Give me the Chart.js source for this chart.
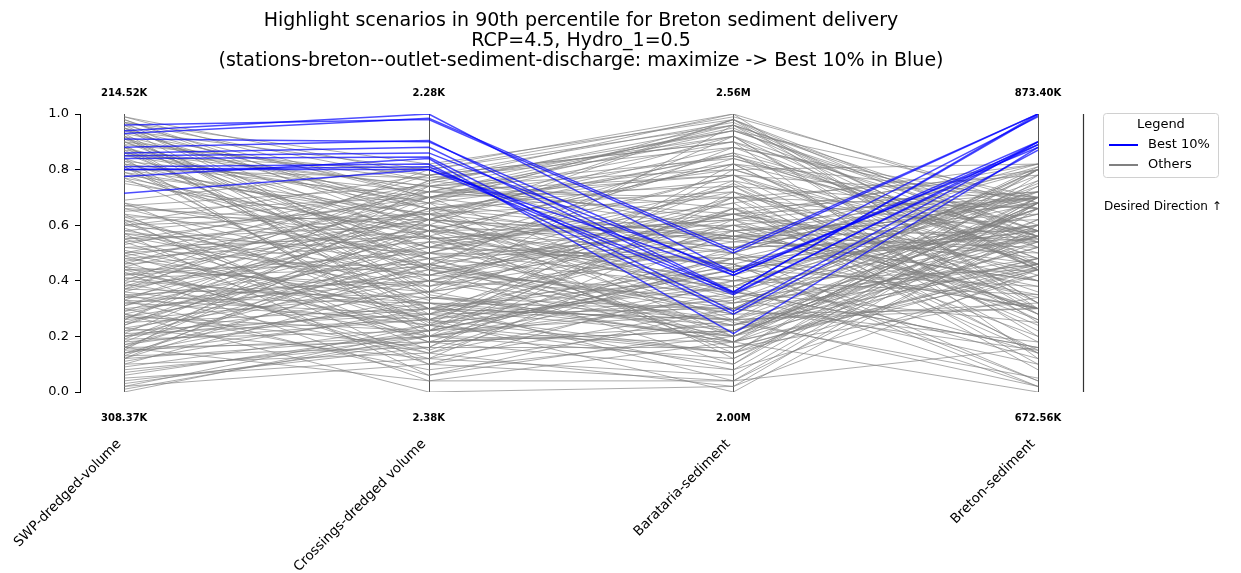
<!DOCTYPE html>
<html>
<head>
<meta charset="utf-8">
<script src="https://cdn.jsdelivr.net/npm/chart.js@4.4.1/dist/chart.umd.min.js"></script>
<style>
  body { margin: 0; background: #fff; }
  #wrap { width: 1241px; height: 573px; position: relative; }
</style>
</head>
<body>
<div id="wrap"><canvas id="chart1"></canvas></div>
<script>
// axes of the parallel plot
var axisNames = ['SWP-dredged-volume', 'Crossings-dredged volume', 'Barataria-sediment', 'Breton-sediment'];
var topLabels = ['214.52K', '2.28K', '2.56M', '873.40K'];
var bottomLabels = ['308.37K', '2.38K', '2.00M', '672.56K'];
var yTicks = [0, 0.2, 0.4, 0.6, 0.8, 1.0];

var titleLines = [
  'Highlight scenarios in 90th percentile for Breton sediment delivery',
  'RCP=4.5, Hydro_1=0.5',
  '(stations-breton--outlet-sediment-discharge: maximize -> Best 10% in Blue)'
];

// normalized values per scenario: [SWP, Crossings, Barataria, Breton]
var best = [
  [0.96, 0.98, 0.50, 1.00],
  [0.94, 1.00, 0.43, 0.99],
  [0.93, 0.985, 0.51, 1.00],
  [0.91, 0.90, 0.42, 0.90],
  [0.88, 0.905, 0.36, 1.00],
  [0.86, 0.88, 0.355, 0.89],
  [0.85, 0.86, 0.43, 0.88],
  [0.84, 0.845, 0.29, 0.90],
  [0.81, 0.82, 0.28, 0.87],
  [0.80, 0.81, 0.36, 0.995],
  [0.80, 0.80, 0.42, 0.89],
  [0.775, 0.84, 0.21, 0.88],
  [0.715, 0.80, 0.35, 0.90]
];

var others = [
  [0.99, 0.78, 0.97, 0.45], [0.98, 0.62, 0.55, 0.70], [0.97, 0.45, 0.30, 0.15], [0.96, 0.70, 0.85, 0.55],
  [0.95, 0.55, 0.62, 0.30], [0.94, 0.80, 0.99, 0.68], [0.93, 0.35, 0.18, 0.80], [0.92, 0.66, 0.72, 0.42],
  [0.91, 0.50, 0.40, 0.60], [0.90, 0.76, 0.92, 0.25], [0.89, 0.28, 0.48, 0.72], [0.88, 0.60, 0.25, 0.05],
  [0.87, 0.74, 0.80, 0.50], [0.86, 0.42, 0.68, 0.82], [0.85, 0.68, 0.55, 0.35], [0.84, 0.20, 0.12, 0.62],
  [0.83, 0.72, 0.95, 0.44], [0.82, 0.58, 0.35, 0.78], [0.81, 0.38, 0.60, 0.20], [0.80, 0.77, 0.88, 0.66],
  [0.79, 0.48, 0.22, 0.52], [0.78, 0.64, 0.70, 0.10], [0.77, 0.30, 0.45, 0.58], [0.76, 0.52, 0.78, 0.40],
  [0.69, 0.81, 1.00, 0.30], [0.68, 0.25, 0.33, 0.75], [0.67, 0.55, 0.64, 0.48], [0.66, 0.40, 0.20, 0.68],
  [0.65, 0.70, 0.90, 0.12], [0.64, 0.15, 0.50, 0.80], [0.63, 0.62, 0.38, 0.56], [0.62, 0.33, 0.75, 0.28],
  [0.61, 0.78, 0.58, 0.64], [0.60, 0.46, 0.16, 0.45], [0.59, 0.22, 0.42, 0.70], [0.58, 0.68, 0.82, 0.32],
  [0.57, 0.50, 0.28, 0.81], [0.56, 0.36, 0.66, 0.15], [0.55, 0.60, 0.52, 0.55], [0.54, 0.18, 0.08, 0.42],
  [0.53, 0.75, 0.96, 0.60], [0.52, 0.42, 0.36, 0.25], [0.51, 0.28, 0.70, 0.78], [0.50, 0.58, 0.46, 0.02],
  [0.49, 0.65, 0.85, 0.48], [0.48, 0.32, 0.24, 0.66], [0.47, 0.10, 0.40, 0.35], [0.46, 0.54, 0.62, 0.72],
  [0.45, 0.70, 0.30, 0.18], [0.44, 0.38, 0.76, 0.54], [0.43, 0.24, 0.14, 0.80], [0.42, 0.62, 0.56, 0.40],
  [0.41, 0.45, 0.92, 0.28], [0.40, 0.80, 0.44, 0.68], [0.39, 0.20, 0.32, 0.46], [0.38, 0.52, 0.68, 0.08],
  [0.37, 0.34, 0.22, 0.62], [0.36, 0.66, 0.80, 0.82], [0.35, 0.14, 0.48, 0.30], [0.34, 0.48, 0.18, 0.56],
  [0.33, 0.72, 0.64, 0.44], [0.32, 0.26, 0.38, 0.74], [0.31, 0.56, 0.86, 0.20], [0.30, 0.40, 0.26, 0.66],
  [0.29, 0.64, 0.54, 0.50], [0.28, 0.16, 0.72, 0.36], [0.27, 0.44, 0.10, 0.78], [0.26, 0.76, 0.94, 0.58],
  [0.25, 0.30, 0.42, 0.12], [0.24, 0.58, 0.60, 0.70], [0.23, 0.12, 0.30, 0.44], [0.22, 0.50, 0.78, 0.26],
  [0.21, 0.68, 0.20, 0.60], [0.20, 0.36, 0.50, 0.81], [0.19, 0.22, 0.66, 0.40], [0.18, 0.60, 0.36, 0.16],
  [0.17, 0.46, 0.88, 0.68], [0.16, 0.18, 0.24, 0.52], [0.15, 0.74, 0.58, 0.34], [0.14, 0.28, 0.14, 0.76],
  [0.13, 0.54, 0.46, 0.04], [0.12, 0.20, 0.70, 0.58], [0.10, 0.40, 0.34, 0.46], [0.08, 0.18, 0.52, 0.70],
  [0.06, 0.22, 0.28, 0.30], [0.04, 0.16, 0.62, 0.54], [0.02, 0.24, 0.40, 0.64], [0.01, 0.20, 0.18, 0.42],
  [0.97, 0.82, 0.98, 0.52], [0.95, 0.66, 0.76, 0.22], [0.92, 0.40, 0.56, 0.68], [0.90, 0.56, 0.32, 0.48],
  [0.88, 0.30, 0.20, 0.74], [0.86, 0.74, 0.62, 0.14], [0.84, 0.52, 0.84, 0.56], [0.82, 0.22, 0.44, 0.38],
  [0.80, 0.64, 0.26, 0.80], [0.78, 0.44, 0.74, 0.66], [0.75, 0.58, 0.50, 0.30], [0.68, 0.48, 0.58, 0.62],
  [0.66, 0.60, 0.98, 0.44], [0.63, 0.30, 0.26, 0.54], [0.60, 0.72, 0.70, 0.24], [0.57, 0.38, 0.54, 0.68],
  [0.54, 0.64, 0.44, 0.72], [0.50, 0.26, 0.60, 0.46], [0.48, 0.56, 0.16, 0.34], [0.46, 0.78, 0.90, 0.58],
  [0.44, 0.14, 0.36, 0.64], [0.42, 0.50, 0.74, 0.18], [0.40, 0.32, 0.30, 0.80], [0.38, 0.70, 0.56, 0.40],
  [0.36, 0.24, 0.82, 0.56], [0.34, 0.60, 0.34, 0.10], [0.32, 0.42, 0.64, 0.70], [0.30, 0.08, 0.20, 0.48],
  [0.28, 0.52, 0.48, 0.60], [0.26, 0.36, 0.96, 0.32], [0.24, 0.66, 0.12, 0.68], [0.22, 0.28, 0.56, 0.52],
  [0.20, 0.48, 0.38, 0.76], [0.18, 0.26, 0.66, 0.26], [0.16, 0.62, 0.52, 0.56], [0.14, 0.34, 0.30, 0.66],
  [0.12, 0.46, 0.60, 0.38], [0.16, 0.04, 0.04, 0.58], [0.28, 0.00, 0.02, 0.44], [0.33, 0.06, 0.22, 0.70],
  [0.45, 0.12, 0.06, 0.68], [0.55, 0.26, 0.00, 0.60],
  [0.99, 0.70, 0.94, 0.56], [0.98, 0.58, 0.82, 0.30], [0.97, 0.76, 0.66, 0.72], [0.96, 0.44, 0.24, 0.46],
  [0.95, 0.36, 0.52, 0.82], [0.94, 0.62, 0.36, 0.16], [0.93, 0.72, 0.78, 0.70], [0.92, 0.26, 0.14, 0.54],
  [0.91, 0.68, 0.98, 0.32], [0.90, 0.48, 0.64, 0.80], [0.89, 0.78, 0.90, 0.44], [0.88, 0.52, 0.46, 0.70],
  [0.87, 0.34, 0.26, 0.02], [0.86, 0.66, 0.56, 0.58], [0.85, 0.80, 0.96, 0.46], [0.83, 0.44, 0.32, 0.66],
  [0.82, 0.70, 0.74, 0.28], [0.81, 0.24, 0.10, 0.70], [0.79, 0.62, 0.86, 0.56], [0.77, 0.56, 0.40, 0.44],
  [0.67, 0.74, 0.94, 0.70], [0.64, 0.50, 0.48, 0.30], [0.61, 0.18, 0.22, 0.58], [0.58, 0.42, 0.62, 0.82],
  [0.55, 0.70, 0.78, 0.46], [0.52, 0.56, 0.20, 0.68], [0.49, 0.20, 0.46, 0.14], [0.47, 0.62, 0.98, 0.56],
  [0.44, 0.46, 0.28, 0.72], [0.41, 0.30, 0.58, 0.30], [0.39, 0.74, 0.84, 0.52], [0.37, 0.58, 0.14, 0.44],
  [0.35, 0.40, 0.70, 0.66], [0.33, 0.28, 0.30, 0.80], [0.31, 0.66, 0.50, 0.04], [0.29, 0.46, 0.24, 0.56],
  [0.27, 0.22, 0.80, 0.46], [0.25, 0.54, 0.18, 0.70], [0.23, 0.40, 0.64, 0.30], [0.21, 0.26, 0.44, 0.58],
  [0.19, 0.62, 0.92, 0.44], [0.17, 0.32, 0.20, 0.68], [0.16, 0.50, 0.72, 0.14], [0.15, 0.20, 0.34, 0.56],
  [0.14, 0.44, 0.56, 0.80], [0.13, 0.16, 0.16, 0.46], [0.12, 0.58, 0.82, 0.70], [0.11, 0.30, 0.26, 0.32],
  [0.10, 0.14, 0.02, 0.66], [0.09, 0.24, 0.48, 0.54], [0.07, 0.20, 0.38, 0.02], [0.05, 0.12, 0.58, 0.70],
  [0.03, 0.18, 0.22, 0.48], [0.00, 0.22, 0.44, 0.60], [0.02, 0.10, 0.04, 0.68], [0.57, 0.06, 0.30, 0.56],
  [0.43, 0.04, 0.18, 0.44], [0.62, 0.10, 0.26, 0.30], [0.37, 0.76, 1.00, 0.66], [0.50, 0.72, 0.92, 0.54],
  [0.60, 0.64, 0.88, 0.48], [0.26, 0.70, 0.96, 0.58], [0.45, 0.36, 0.18, 0.00], [0.34, 0.32, 0.04, 0.16],
  [0.20, 0.30, 0.08, 0.70]
];

var BLUE = 'rgba(0,0,255,0.7)';
var GRAY = 'rgba(128,128,128,0.65)';

Chart.defaults.font.family = '"DejaVu Sans", sans-serif';
Chart.defaults.color = '#000';

function toPoints(row) {
  return row.map(function (v, i) { return { x: i, y: v }; });
}

var datasets = [];
best.forEach(function (row) {
  datasets.push({ data: toPoints(row), borderColor: BLUE, borderWidth: 1.5, order: 0 });
});
others.forEach(function (row) {
  datasets.push({ data: toPoints(row), borderColor: GRAY, borderWidth: 1, order: 1 });
});

// draws the vertical axes, their min/max labels, names, title and legend
var parallelDecor = {
  id: 'parallelDecor',
  beforeDatasetsDraw: function (chart) {
    var ctx = chart.ctx, xs = chart.scales.x, ys = chart.scales.y;
    ctx.save();
    ctx.strokeStyle = '#555';
    ctx.lineWidth = 1;
    for (var i = 0; i < axisNames.length; i++) {
      var px = Math.round(xs.getPixelForValue(i)) + 0.5;
      ctx.beginPath();
      ctx.moveTo(px, ys.getPixelForValue(1));
      ctx.lineTo(px, ys.getPixelForValue(0));
      ctx.stroke();
    }
    ctx.restore();
  },
  afterDraw: function (chart) {
    var ctx = chart.ctx, xs = chart.scales.x, ys = chart.scales.y;
    ctx.save();
    ctx.fillStyle = '#000';

    // title
    ctx.font = '19px "DejaVu Sans"';
    ctx.textAlign = 'center';
    ctx.textBaseline = 'middle';
    titleLines.forEach(function (t, k) { ctx.fillText(t, 581, 21 + k * 20); });

    for (var i = 0; i < axisNames.length; i++) {
      var px = xs.getPixelForValue(i);
      ctx.font = 'bold 10px "DejaVu Sans"';
      ctx.textAlign = 'center';
      ctx.fillText(topLabels[i], px, ys.getPixelForValue(1) - 21);
      ctx.fillText(bottomLabels[i], px, ys.getPixelForValue(0) + 26);

      ctx.save();
      ctx.translate(px - 5, ys.getPixelForValue(0) + 50);
      ctx.rotate(-Math.PI / 4);
      ctx.font = '13.5px "DejaVu Sans"';
      ctx.textAlign = 'right';
      ctx.textBaseline = 'middle';
      ctx.fillText(axisNames[i], 0, 0);
      ctx.restore();
    }

    // desired direction bar
    ctx.strokeStyle = '#333';
    ctx.lineWidth = 1.2;
    ctx.beginPath();
    ctx.moveTo(1083.5, ys.getPixelForValue(1));
    ctx.lineTo(1083.5, ys.getPixelForValue(0));
    ctx.stroke();

    // legend box
    ctx.strokeStyle = '#d0d0d0';
    ctx.lineWidth = 1;
    ctx.fillStyle = 'rgba(255,255,255,0.8)';
    ctx.beginPath();
    ctx.roundRect(1103.5, 113.5, 115, 64, 3);
    ctx.fill();
    ctx.stroke();
    ctx.fillStyle = '#000';
    ctx.font = '13px "DejaVu Sans"';
    ctx.textAlign = 'center';
    ctx.fillText('Legend', 1161, 125);
    ctx.textAlign = 'left';
    [['Best 10%', 'rgb(0,0,255)', 145], ['Others', 'rgb(128,128,128)', 165]].forEach(function (e) {
      ctx.strokeStyle = e[1];
      ctx.lineWidth = 2;
      ctx.beginPath();
      ctx.moveTo(1109, e[2]);
      ctx.lineTo(1138, e[2]);
      ctx.stroke();
      ctx.fillText(e[0], 1148, e[2]);
    });
    ctx.font = '12px "DejaVu Sans"';
    ctx.fillText('Desired Direction \u2191', 1104, 207);
    ctx.restore();
  }
};

var chart1 = new Chart(document.getElementById('chart1'), {
  type: 'line',
  data: { datasets: datasets },
  options: {
    responsive: true,
    maintainAspectRatio: false,
    devicePixelRatio: 1,
    animation: false,
    events: [],
    layout: { padding: { top: 114, bottom: 181, left: 0, right: 203 } },
    elements: { point: { radius: 0 }, line: { tension: 0 } },
    plugins: { legend: { display: false }, tooltip: { enabled: false }, title: { display: false } },
    scales: {
      x: { type: 'linear', min: -0.145, max: 3, display: false },
      y: {
        min: 0, max: 1,
        afterFit: function (s) { s.width = 80; },
        afterBuildTicks: function (s) { s.ticks = yTicks.map(function (v) { return { value: v }; }); },
        ticks: { font: { size: 13 }, color: '#000', padding: 6, callback: function (v) { return v.toFixed(1); } },
        grid: { drawOnChartArea: false, tickLength: 5, color: '#000' },
        border: { color: '#000', width: 1 }
      }
    }
  },
  plugins: [parallelDecor]
});
</script>
</body>
</html>
